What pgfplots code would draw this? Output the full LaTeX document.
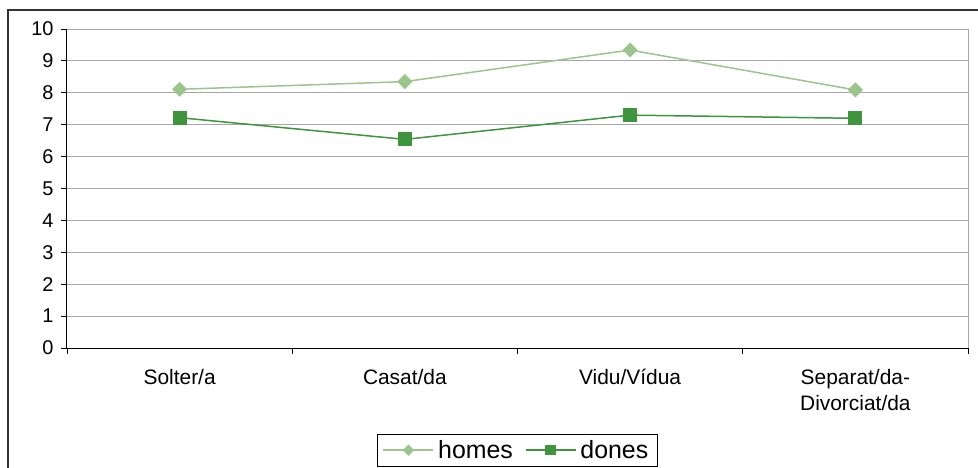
\documentclass[border=0pt]{standalone}
\usepackage{fontspec}
\setmainfont{Liberation Sans}
\usepackage{pgfplots}
\pgfplotsset{compat=1.18}
\definecolor{homesc}{HTML}{9BC58C}
\definecolor{donesc}{HTML}{3E953E}
\definecolor{gridc}{HTML}{A6A6A6}
\begin{document}
\begin{tikzpicture}
\useasboundingbox (-67bp,-120bp) rectangle (911bp,348bp);
\draw[line width=1.2bp, black!80] (-59bp,-140bp) rectangle (930bp,338bp);
\begin{axis}[
  at={(0,0)}, anchor=south west,
  scale only axis, width=901bp, height=319bp,
  xmin=-0.5, xmax=3.5, ymin=0, ymax=10,
  ytick={0,1,...,10},
  ymajorgrids, grid style={gridc, line width=0.9bp},
  axis x line*=bottom, axis y line*=left,
  axis line style={black, line width=1bp},
  tick style={black, line width=0.9bp},
  tick align=outside, major tick length=6bp,
  xtick={-0.5,0.5,1.5,2.5,3.5},
  xticklabels={Solter/a,Casat/da,Vidu/Vídua,{Separat/da-\\Divorciat/da}},
  x tick label as interval,
  x tick label style={font=\fontsize{21}{26}\selectfont, align=center, anchor=north, yshift=-12bp},
  y tick label style={font=\fontsize{20}{22}\selectfont, xshift=-4bp},
  /pgf/number format/assume math mode=true,
  clip=false,
  legend columns=2,
  legend style={at={(0.5,-0.2696)}, anchor=north, draw=black, line width=0.8bp,
    font=\fontsize{25}{28}\selectfont, inner xsep=5bp, inner ysep=4bp,
    /tikz/every even column/.append style={column sep=8bp},
    nodes={inner xsep=4bp}},
  legend image code/.code={\draw[mark repeat=2,mark phase=2, /tikz/every mark/.append style={scale=0.72}] plot coordinates {(0bp,0bp) (25bp,0bp) (50bp,0bp)};},
]
\addplot[homesc, line width=1.5bp, mark=square*, mark size=4.6bp, mark options={rotate=45, solid, fill=homesc, draw=homesc}]
  coordinates {(0,8.11) (1,8.35) (2,9.34) (3,8.09)};
\addlegendentry{homes}
\addplot[donesc, line width=1.5bp, mark=square*, mark size=6.3bp, mark options={solid, fill=donesc, draw=donesc}]
  coordinates {(0,7.22) (1,6.54) (2,7.30) (3,7.20)};
\addlegendentry{dones}
\draw[gridc, line width=1bp] (rel axis cs:1,0) -- (rel axis cs:1,1);
\end{axis}
\end{tikzpicture}
\end{document}
